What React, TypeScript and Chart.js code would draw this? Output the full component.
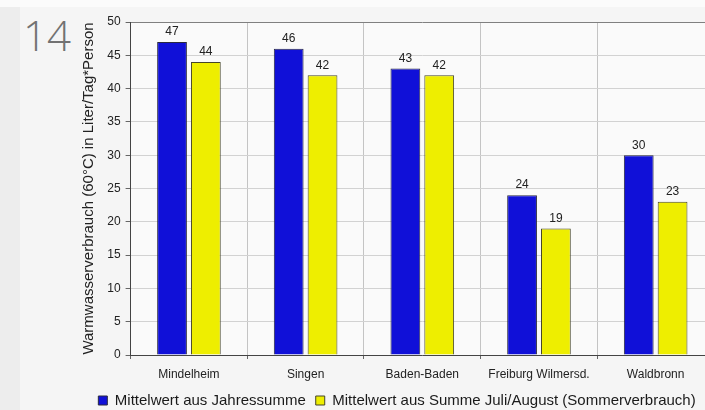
import React, { useEffect, useRef } from "react";
import { Chart, registerables } from "chart.js";

Chart.register(...registerables);

const categories = ["Mindelheim", "Singen", "Baden-Baden", "Freiburg Wilmersd.", "Waldbronn"];
const jahresWerte = [47, 46, 43, 24, 30];
const sommerWerte = [44, 42, 42, 19, 23];
const seriesNames = ["Mittelwert aus Jahressumme", "Mittelwert aus Summe Juli/August (Sommerverbrauch)"];
const yTitle = "Warmwasserverbrauch (60°C) in Liter/Tag*Person";
const slideNumber = "14";

const FONT = "'Liberation Sans', Arial, sans-serif";

const valueLabels = {
  id: "valueLabels",
  afterDatasetsDraw(chart: any) {
    const ctx = chart.ctx;
    ctx.save();
    ctx.font = `12px ${FONT}`;
    ctx.fillStyle = "#222";
    ctx.textAlign = "center";
    ctx.textBaseline = "bottom";
    chart.data.datasets.forEach((ds: any, i: number) => {
      const meta = chart.getDatasetMeta(i);
      meta.data.forEach((bar: any, j: number) => {
        ctx.fillText(String(ds.data[j]), bar.x, bar.y - 4);
      });
    });
    ctx.restore();
  },
};

const plotBg = {
  id: "plotBg",
  beforeDraw(chart: any) {
    const { ctx, chartArea } = chart;
    ctx.save();
    ctx.fillStyle = "#fafafa";
    ctx.fillRect(chartArea.left, chartArea.top, chartArea.right - chartArea.left, chartArea.bottom - chartArea.top);
    ctx.restore();
  },
};

export default function App() {
  const ref = useRef<HTMLCanvasElement | null>(null);
  useEffect(() => {
    if (!ref.current) return;
    const chart = new Chart(ref.current, {
      type: "bar",
      data: {
        labels: categories,
        datasets: [
          {
            label: seriesNames[0],
            data: jahresWerte,
            backgroundColor: "#1010d8",
            borderColor: "#2a2a40",
            borderWidth: 1,
            categoryPercentage: 0.58,
            barPercentage: 0.88,
          },
          {
            label: seriesNames[1],
            data: sommerWerte,
            backgroundColor: "#eeee00",
            borderColor: "#45452a",
            borderWidth: 1,
            categoryPercentage: 0.58,
            barPercentage: 0.88,
          },
        ],
      },
      options: {
        responsive: false,
        animation: false,
        layout: { padding: { left: 80, right: 16, top: 22, bottom: 0 } },
        plugins: {
          tooltip: { enabled: false },
          legend: {
            position: "bottom",
            labels: {
              boxWidth: 9,
              boxHeight: 9,
              padding: 10,
              color: "#1a1a1a",
              font: { family: FONT, size: 15 },
            },
          },
        },
        scales: {
          x: {
            afterFit(scale: any) {
              scale.height = 28;
            },
            border: { color: "#444", width: 1 },
            grid: { color: "#c4c4c4", tickColor: "#666", tickLength: 4 },
            ticks: { color: "#222", padding: 8, font: { family: FONT, size: 12 } },
          },
          y: {
            min: 0,
            max: 50,
            afterFit(scale: any) {
              scale.width = 50.6;
            },
            border: { color: "#444", width: 1 },
            grid: {
              color: (c: any) => (c.tick && c.tick.value === 50 ? "#808080" : "#d2d2d2"),
              tickColor: "#666",
              tickLength: 5,
            },
            ticks: { stepSize: 5, color: "#222", padding: 5, font: { family: FONT, size: 12 } },
            title: {
              display: true,
              text: yTitle,
              color: "#222",
              padding: { top: 0, bottom: 0 },
              font: { family: FONT, size: 15 },
            },
          },
        },
      },
      plugins: [plotBg, valueLabels],
    });
    return () => chart.destroy();
  }, []);

  return (
    <div
      style={{
        position: "fixed",
        left: 0,
        top: 0,
        width: 705,
        height: 410,
        overflow: "hidden",
        background: "#ededed",
      }}
    >
      <div style={{ position: "absolute", left: 0, top: 0, width: 705, height: 7, background: "#fbfbfb" }} />
      <div style={{ position: "absolute", left: 20, top: 7, width: 685, height: 403, background: "#f5f5f5" }} />
      <div
        style={{
          position: "absolute",
          left: 23,
          top: 14,
          fontFamily: "'Open Sans', sans-serif",
          fontWeight: 300,
          fontSize: 42,
          lineHeight: "42px",
          color: "#727272",
        }}
      >
        {slideNumber}
      </div>
      <canvas ref={ref} width={730} height={418} style={{ position: "absolute", left: 0, top: 0 }} />
    </div>
  );
}
